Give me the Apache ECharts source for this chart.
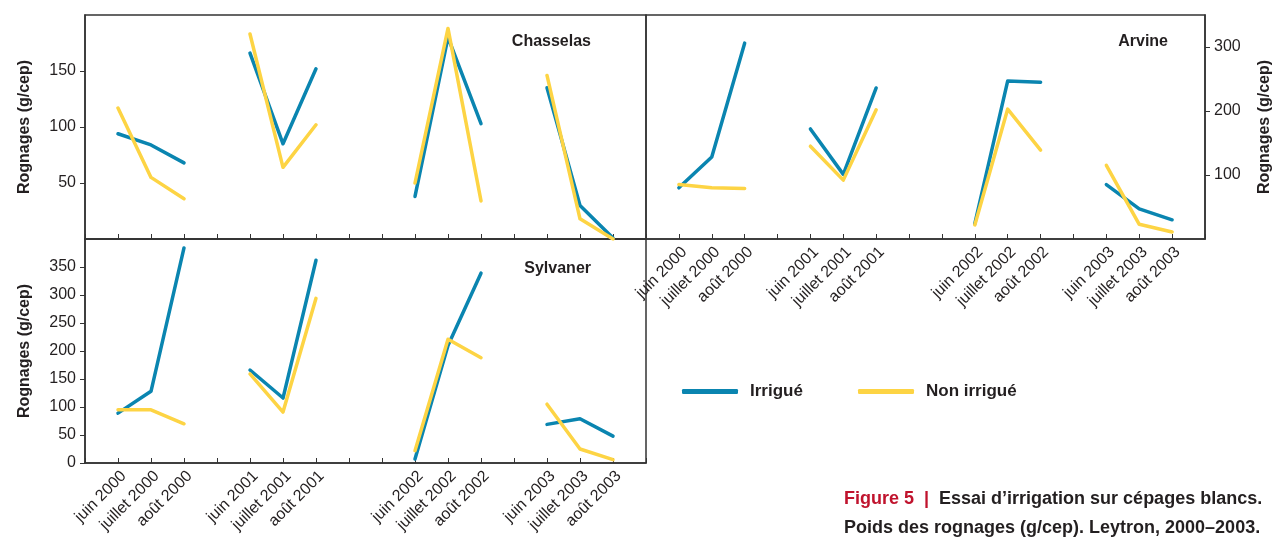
<!DOCTYPE html>
<html>
<head>
<meta charset="utf-8">
<script src="https://cdn.jsdelivr.net/npm/echarts@6/dist/echarts.min.js"></script>
<style>
  html, body { margin: 0; padding: 0; background: #fff; }
  #chart { width: 1274px; height: 542px; }
</style>
</head>
<body>
<div id="chart"></div>
<script>
// Categories (empty strings are spacer positions between years)
var categories = ['', 'juin 2000', 'juillet 2000', 'août 2000', '', 'juin 2001', 'juillet 2001', 'août 2001', '', '',
  'juin 2002', 'juillet 2002', 'août 2002', '', 'juin 2003', 'juillet 2003', 'août 2003', ''];

// Chasselas (g/cep)
var chasselasIrrigue = [null, 94, 84, 68, null, 166, 85, 152, null, null, 38, 180, 103, null, 135, 30, 1, null];
var chasselasNonIrrigue = [null, 117, 55, 36, null, 183, 64, 102, null, null, 50, 188, 34, null, 146, 18, 0, null];

// Arvine (g/cep)
var arvineIrrigue = [null, 80, 128, 306, null, 172, 101, 236, null, null, 24, 247, 245, null, 85, 47, 30, null];
var arvineNonIrrigue = [null, 85, 80, 79, null, 145, 92, 202, null, null, 22, 203, 139, null, 115, 23, 11, null];

// Sylvaner (g/cep)
var sylvanerIrrigue = [null, 89, 128, 384, null, 166, 116, 362, null, null, 7, 210, 339, null, 69, 79, 48, null];
var sylvanerNonIrrigue = [null, 95, 95, 70, null, 159, 91, 294, null, null, 22, 221, 188, null, 105, 25, 6, null];

// Y tick labels per panel
var chasselasTicks = [50, 100, 150];
var arvineTicks = [100, 200, 300];
var sylvanerTicks = [0, 50, 100, 150, 200, 250, 300, 350];

var seriesNames = ['Irrigué', 'Non irrigué'];
var panelTitles = ['Chasselas', 'Arvine', 'Sylvaner'];
var yTitle = 'Rognages (g/cep)';

var BLUE = '#0a85b0';
var YELLOW = '#fdd444';
var FONT = "'Liberation Sans', Arial, sans-serif";
var DARK = '#231f20';

function xAxis(gridIndex, showLabels) {
  return {
    type: 'category', gridIndex: gridIndex, data: categories, boundaryGap: false,
    axisLine: { show: true, lineStyle: { color: '#333', width: 1.5 } },
    axisTick: { show: true, inside: true, length: 5, interval: 0, lineStyle: { color: '#333', width: 1 } },
    axisLabel: { show: showLabels, interval: 0, rotate: 45, margin: 5, verticalAlign: 'top',
      fontFamily: FONT, fontSize: 16, color: DARK },
    splitLine: { show: false }
  };
}
function yAxis(gridIndex, max, ticks, position) {
  return {
    type: 'value', gridIndex: gridIndex, min: 0, max: max, position: position,
    name: yTitle, nameLocation: 'middle', nameRotate: 90, nameGap: 52,
    nameTextStyle: { fontFamily: FONT, fontSize: 16, fontWeight: 'bold', color: DARK },
    axisLine: { show: true, lineStyle: { color: '#333', width: 1.5 } },
    axisTick: { show: true, inside: false, length: 5, customValues: ticks, lineStyle: { color: '#333', width: 1 } },
    axisLabel: { margin: 9, customValues: ticks, fontFamily: FONT, fontSize: 16, color: DARK },
    splitLine: { show: false }
  };
}
function line(name, gi, data, color, z) {
  return {
    name: name, type: 'line', xAxisIndex: gi, yAxisIndex: gi, data: data,
    showSymbol: false, symbol: 'none', connectNulls: false, z: z,
    lineStyle: { color: color, width: 3.5, cap: 'round', join: 'round' },
    itemStyle: { color: color }, animation: false
  };
}

var gridBox = { show: true, borderColor: '#333', borderWidth: 1.5, backgroundColor: 'transparent' };

var option = {
  animation: false,
  backgroundColor: '#fff',
  grid: [
    Object.assign({ left: 85, top: 15, width: 561, height: 224 }, gridBox),
    Object.assign({ left: 646, top: 15, width: 560, height: 224 }, gridBox),
    Object.assign({ left: 85, top: 239, width: 561, height: 224 }, gridBox)
  ],
  xAxis: [xAxis(0, false), xAxis(1, true), xAxis(2, true)],
  yAxis: [
    yAxis(0, 200, chasselasTicks, 'left'),
    yAxis(1, 350, arvineTicks, 'right'),
    yAxis(2, 400, sylvanerTicks, 'left')
  ],
  legend: [
    { left: 677, top: 378, data: [seriesNames[0]], icon: 'roundRect', itemWidth: 56, itemHeight: 5,
      selectedMode: false, textStyle: { fontFamily: FONT, fontSize: 17, fontWeight: 'bold', color: DARK, padding: [0, 0, 0, 7] } },
    { left: 853, top: 378, data: [seriesNames[1]], icon: 'roundRect', itemWidth: 56, itemHeight: 5,
      selectedMode: false, textStyle: { fontFamily: FONT, fontSize: 17, fontWeight: 'bold', color: DARK, padding: [0, 0, 0, 7] } }
  ],
  graphic: [
    { type: 'text', x: 591, y: 42, style: { text: panelTitles[0], align: 'right', verticalAlign: 'middle',
      font: "bold 16px " + FONT, fill: DARK } },
    { type: 'text', x: 1168, y: 42, style: { text: panelTitles[1], align: 'right', verticalAlign: 'middle',
      font: "bold 16px " + FONT, fill: DARK } },
    { type: 'text', x: 591, y: 269, style: { text: panelTitles[2], align: 'right', verticalAlign: 'middle',
      font: "bold 16px " + FONT, fill: DARK } },
    { type: 'text', x: 844, y: 499, style: {
      text: '{r|Figure 5  |  }{b|Essai d’irrigation sur cépages blancs.}',
      verticalAlign: 'middle',
      rich: { r: { font: "bold 18px " + FONT, fill: '#c0132d' }, b: { font: "bold 18px " + FONT, fill: DARK } } } },
    { type: 'text', x: 844, y: 528, style: {
      text: 'Poids des rognages (g/cep). Leytron, 2000–2003.', verticalAlign: 'middle',
      font: "bold 18px " + FONT, fill: DARK } }
  ],
  series: [
    line(seriesNames[0], 0, chasselasIrrigue, BLUE, 2),
    line(seriesNames[1], 0, chasselasNonIrrigue, YELLOW, 3),
    line(seriesNames[0], 1, arvineIrrigue, BLUE, 2),
    line(seriesNames[1], 1, arvineNonIrrigue, YELLOW, 3),
    line(seriesNames[0], 2, sylvanerIrrigue, BLUE, 2),
    line(seriesNames[1], 2, sylvanerNonIrrigue, YELLOW, 3)
  ]
};

var chart = echarts.init(document.getElementById('chart'), null, { renderer: 'canvas' });
chart.setOption(option);
</script>
</body>
</html>
